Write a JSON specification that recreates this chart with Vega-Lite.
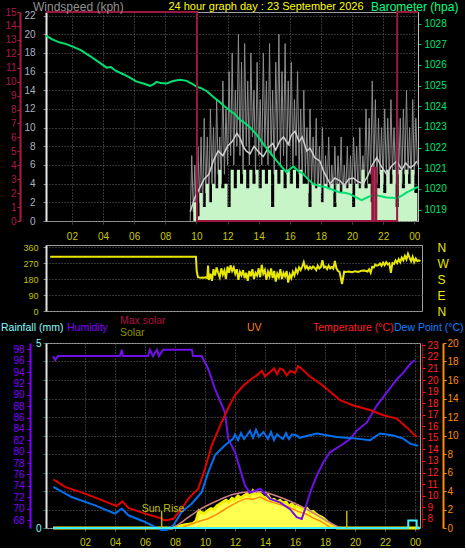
{
"$schema": "https://vega.github.io/schema/vega-lite/v6.json",
"background": "black",
"padding": 0,
"bounds": "flush",
"spacing": 24,
"config": {
 "view": {"stroke": "#a0a0a0", "strokeWidth": 1},
 "axis": {"labelFont": "Liberation Sans", "labelFontSize": 10, "gridDash": [1, 2], "gridColor": "#6a6a6a", "gridWidth": 1, "tickSize": 3, "labelOverlap": false, "labelFlush": false, "domainColor": "#e0e0e0", "format": "d"},
 "text": {"font": "Liberation Sans"}
},
"resolve": {"scale": {"x": "independent", "y": "independent", "color": "independent"}},
"datasets": {
 "gust": [{"h":9.6,"v":0},{"h":9.7,"v":7},{"h":9.8,"v":1},{"h":9.9,"v":6},{"h":10.0,"v":0},{"h":10.1,"v":8},{"h":10.2,"v":2},{"h":10.3,"v":9},{"h":10.4,"v":1},{"h":10.5,"v":11},{"h":10.6,"v":3},{"h":10.7,"v":9},{"h":10.8,"v":2},{"h":10.9,"v":12},{"h":11.0,"v":4},{"h":11.1,"v":10},{"h":11.2,"v":3},{"h":11.3,"v":13},{"h":11.4,"v":5},{"h":11.5,"v":9},{"h":11.6,"v":4},{"h":11.7,"v":15},{"h":11.8,"v":5},{"h":11.9,"v":12},{"h":12.0,"v":6},{"h":12.1,"v":16},{"h":12.2,"v":7},{"h":12.3,"v":18},{"h":12.4,"v":6},{"h":12.5,"v":14},{"h":12.6,"v":8},{"h":12.7,"v":20},{"h":12.8,"v":7},{"h":12.9,"v":17},{"h":13.0,"v":5},{"h":13.1,"v":19},{"h":13.2,"v":8},{"h":13.3,"v":15},{"h":13.4,"v":6},{"h":13.5,"v":18},{"h":13.6,"v":9},{"h":13.7,"v":14},{"h":13.8,"v":5},{"h":13.9,"v":17},{"h":14.0,"v":7},{"h":14.1,"v":13},{"h":14.2,"v":6},{"h":14.3,"v":18},{"h":14.4,"v":8},{"h":14.5,"v":15},{"h":14.6,"v":6},{"h":14.7,"v":19},{"h":14.8,"v":7},{"h":14.9,"v":14},{"h":15.0,"v":5},{"h":15.1,"v":17},{"h":15.2,"v":8},{"h":15.3,"v":20},{"h":15.4,"v":6},{"h":15.5,"v":16},{"h":15.6,"v":7},{"h":15.7,"v":19},{"h":15.8,"v":5},{"h":15.9,"v":15},{"h":16.0,"v":8},{"h":16.1,"v":17},{"h":16.2,"v":6},{"h":16.3,"v":13},{"h":16.4,"v":7},{"h":16.5,"v":16},{"h":16.6,"v":5},{"h":16.7,"v":12},{"h":16.8,"v":4},{"h":16.9,"v":14},{"h":17.0,"v":5},{"h":17.1,"v":10},{"h":17.2,"v":3},{"h":17.3,"v":12},{"h":17.4,"v":4},{"h":17.5,"v":9},{"h":17.6,"v":3},{"h":17.7,"v":11},{"h":17.8,"v":2},{"h":17.9,"v":8},{"h":18.0,"v":3},{"h":18.1,"v":10},{"h":18.2,"v":2},{"h":18.3,"v":7},{"h":18.4,"v":3},{"h":18.5,"v":9},{"h":18.6,"v":2},{"h":18.7,"v":6},{"h":18.8,"v":3},{"h":18.9,"v":8},{"h":19.0,"v":2},{"h":19.1,"v":7},{"h":19.2,"v":3},{"h":19.3,"v":9},{"h":19.4,"v":2},{"h":19.5,"v":6},{"h":19.6,"v":3},{"h":19.7,"v":8},{"h":19.8,"v":2},{"h":19.9,"v":7},{"h":20.0,"v":3},{"h":20.1,"v":9},{"h":20.2,"v":4},{"h":20.3,"v":8},{"h":20.4,"v":2},{"h":20.5,"v":10},{"h":20.6,"v":3},{"h":20.7,"v":7},{"h":20.8,"v":4},{"h":20.9,"v":12},{"h":21.0,"v":4},{"h":21.1,"v":11},{"h":21.2,"v":5},{"h":21.3,"v":15},{"h":21.4,"v":5},{"h":21.5,"v":13},{"h":21.6,"v":4},{"h":21.7,"v":11},{"h":21.8,"v":5},{"h":21.9,"v":10},{"h":22.0,"v":4},{"h":22.1,"v":12},{"h":22.2,"v":5},{"h":22.3,"v":11},{"h":22.4,"v":4},{"h":22.5,"v":13},{"h":22.6,"v":5},{"h":22.7,"v":10},{"h":22.8,"v":4},{"h":22.9,"v":14},{"h":23.0,"v":5},{"h":23.1,"v":11},{"h":23.2,"v":4},{"h":23.3,"v":12},{"h":23.4,"v":5},{"h":23.5,"v":14},{"h":23.6,"v":5},{"h":23.7,"v":10},{"h":23.8,"v":4},{"h":23.9,"v":13},{"h":24.0,"v":5},{"h":24.1,"v":11},{"h":24.2,"v":6}],
 "spd": [{"h":9.6,"v":0},{"h":9.8,"v":2},{"h":10.0,"v":0.5},{"h":10.2,"v":3},{"h":10.4,"v":1.5},{"h":10.6,"v":4},{"h":10.8,"v":2},{"h":11.0,"v":4},{"h":11.2,"v":3.5},{"h":11.4,"v":5.5},{"h":11.6,"v":3.5},{"h":11.8,"v":4},{"h":12.0,"v":1.5},{"h":12.2,"v":5.5},{"h":12.4,"v":3.5},{"h":12.6,"v":5.5},{"h":12.8,"v":4},{"h":13.0,"v":5.5},{"h":13.2,"v":3.5},{"h":13.4,"v":5.5},{"h":13.6,"v":4},{"h":13.8,"v":5.5},{"h":14.0,"v":3.5},{"h":14.2,"v":5.5},{"h":14.4,"v":4},{"h":14.6,"v":5.5},{"h":14.8,"v":1.5},{"h":15.0,"v":5.5},{"h":15.2,"v":4},{"h":15.4,"v":5.5},{"h":15.6,"v":3.5},{"h":15.8,"v":5.5},{"h":16.0,"v":4},{"h":16.2,"v":5.5},{"h":16.4,"v":3.5},{"h":16.6,"v":5.5},{"h":16.8,"v":4},{"h":17.0,"v":4},{"h":17.2,"v":1.5},{"h":17.4,"v":4},{"h":17.6,"v":3.5},{"h":17.8,"v":4},{"h":18.0,"v":2},{"h":18.2,"v":4},{"h":18.4,"v":3.5},{"h":18.6,"v":4},{"h":18.8,"v":1.5},{"h":19.0,"v":4},{"h":19.2,"v":3},{"h":19.4,"v":4},{"h":19.6,"v":3.5},{"h":19.8,"v":4},{"h":20.0,"v":1.5},{"h":20.2,"v":4},{"h":20.4,"v":3.5},{"h":20.6,"v":5.5},{"h":20.8,"v":3.5},{"h":21.0,"v":4},{"h":21.2,"v":2},{"h":21.4,"v":5.5},{"h":21.6,"v":3.5},{"h":21.8,"v":5.5},{"h":22.0,"v":3},{"h":22.2,"v":5.5},{"h":22.4,"v":4},{"h":22.6,"v":5.5},{"h":22.8,"v":1.5},{"h":23.0,"v":5.5},{"h":23.2,"v":3.5},{"h":23.4,"v":5.5},{"h":23.6,"v":4},{"h":23.8,"v":5.5},{"h":24.0,"v":3},{"h":24.2,"v":5.5}],
 "avg": [{"h":9.6,"v":1},{"h":9.9,"v":2.5},{"h":10.2,"v":3.5},{"h":10.5,"v":4.5},{"h":10.8,"v":5},{"h":11.1,"v":6.5},{"h":11.4,"v":7.5},{"h":11.7,"v":7},{"h":12.0,"v":8},{"h":12.3,"v":8.5},{"h":12.6,"v":9.4},{"h":12.8,"v":8.9},{"h":13.0,"v":8},{"h":13.2,"v":7.5},{"h":13.45,"v":7.2},{"h":13.7,"v":8},{"h":14.0,"v":7.4},{"h":14.3,"v":6.9},{"h":14.6,"v":7.8},{"h":14.9,"v":8.3},{"h":15.1,"v":7.6},{"h":15.37,"v":8.6},{"h":15.6,"v":9.0},{"h":15.9,"v":8.2},{"h":16.1,"v":9.2},{"h":16.34,"v":9.6},{"h":16.6,"v":8.5},{"h":16.8,"v":9.0},{"h":17.09,"v":7.5},{"h":17.3,"v":7.8},{"h":17.6,"v":6.8},{"h":17.94,"v":6.4},{"h":18.2,"v":5.2},{"h":18.59,"v":4.0},{"h":18.9,"v":4.6},{"h":19.23,"v":4.3},{"h":19.5,"v":3.8},{"h":19.8,"v":4.5},{"h":20.08,"v":4.6},{"h":20.4,"v":4.2},{"h":20.73,"v":4.0},{"h":21.0,"v":4.8},{"h":21.3,"v":6.0},{"h":21.59,"v":6.8},{"h":21.9,"v":5.8},{"h":22.23,"v":5.0},{"h":22.5,"v":5.8},{"h":22.87,"v":6.4},{"h":23.2,"v":5.5},{"h":23.45,"v":6.2},{"h":23.73,"v":5.7},{"h":24.0,"v":6.0},{"h":24.16,"v":6.4}],
 "baro": [{"h":0.334,"v":1027.42},{"h":0.7,"v":1027.25},{"h":1.23,"v":1027.08},{"h":1.6,"v":1027.02},{"h":2.09,"v":1026.87},{"h":2.6,"v":1026.7},{"h":3.16,"v":1026.43},{"h":3.7,"v":1026.15},{"h":4.23,"v":1025.87},{"h":4.5,"v":1025.9},{"h":4.8,"v":1025.72},{"h":5.3,"v":1025.55},{"h":5.7,"v":1025.4},{"h":6.16,"v":1025.19},{"h":6.6,"v":1025.1},{"h":7.02,"v":1024.99},{"h":7.2,"v":1025.05},{"h":7.45,"v":1025.18},{"h":7.7,"v":1025.12},{"h":8.09,"v":1025.1},{"h":8.5,"v":1025.22},{"h":8.95,"v":1025.28},{"h":9.38,"v":1025.23},{"h":9.7,"v":1025.1},{"h":10.02,"v":1024.94},{"h":10.3,"v":1024.88},{"h":10.66,"v":1024.74},{"h":11.09,"v":1024.45},{"h":11.41,"v":1024.26},{"h":11.8,"v":1024.0},{"h":12.16,"v":1023.78},{"h":12.5,"v":1023.6},{"h":12.8,"v":1023.34},{"h":13.1,"v":1023.2},{"h":13.45,"v":1022.97},{"h":13.9,"v":1022.6},{"h":14.3,"v":1022.17},{"h":14.7,"v":1021.8},{"h":15.16,"v":1021.36},{"h":15.5,"v":1021.05},{"h":15.8,"v":1020.8},{"h":16.0,"v":1020.95},{"h":16.23,"v":1021.09},{"h":16.5,"v":1020.9},{"h":16.87,"v":1020.72},{"h":17.2,"v":1020.45},{"h":17.51,"v":1020.24},{"h":17.9,"v":1020.15},{"h":18.37,"v":1020.07},{"h":18.8,"v":1019.95},{"h":19.23,"v":1019.83},{"h":19.55,"v":1019.82},{"h":19.87,"v":1019.75},{"h":20.2,"v":1019.62},{"h":20.62,"v":1019.46},{"h":21.0,"v":1019.6},{"h":21.37,"v":1019.72},{"h":21.8,"v":1019.66},{"h":22.23,"v":1019.59},{"h":22.6,"v":1019.58},{"h":22.87,"v":1019.54},{"h":23.2,"v":1019.68},{"h":23.52,"v":1019.83},{"h":23.9,"v":1019.98},{"h":24.16,"v":1020.07},{"h":24.24,"v":1020.1}],
 "redstep": [{"h":0.334,"v":15},{"h":10.04,"v":0},{"h":21.3,"v":3.8},{"h":21.36,"v":0},{"h":21.5,"v":3.8},{"h":21.56,"v":0},{"h":22.9,"v":15},{"h":24.24,"v":15}],
 "tophead": [{"t":"Windspeed (kph)","h":-0.5,"u":1.024,"c":"wind"},{"t":"Barometer (hpa)","h":21.22,"u":1.024,"c":"baro"}],
 "toptitle": [{"t":"24 hour graph day : 23 September 2026","h":14.47,"u":1.024}],
 "dir": [{"h":0.6,"v":305},{"h":9.97,"v":305},{"h":10.02,"v":225},{"h":10.1,"v":190},{"h":10.2,"v":188},{"h":10.3,"v":187},{"h":10.4,"v":188},{"h":10.5,"v":187},{"h":10.6,"v":190},{"h":10.7,"v":186},{"h":10.75,"v":255},{"h":10.8,"v":175},{"h":10.9,"v":210},{"h":11.0,"v":170},{"h":11.1,"v":235},{"h":11.2,"v":200},{"h":11.3,"v":245},{"h":11.4,"v":215},{"h":11.5,"v":190},{"h":11.6,"v":240},{"h":11.7,"v":205},{"h":11.8,"v":228},{"h":11.9,"v":180},{"h":12.0,"v":250},{"h":12.1,"v":215},{"h":12.2,"v":257},{"h":12.3,"v":225},{"h":12.4,"v":245},{"h":12.5,"v":210},{"h":12.6,"v":235},{"h":12.7,"v":175},{"h":12.8,"v":220},{"h":12.9,"v":200},{"h":13.0,"v":230},{"h":13.1,"v":185},{"h":13.2,"v":215},{"h":13.3,"v":170},{"h":13.4,"v":225},{"h":13.5,"v":195},{"h":13.6,"v":235},{"h":13.7,"v":180},{"h":13.8,"v":215},{"h":13.9,"v":200},{"h":14.0,"v":240},{"h":14.1,"v":190},{"h":14.2,"v":260},{"h":14.3,"v":210},{"h":14.4,"v":230},{"h":14.5,"v":175},{"h":14.6,"v":220},{"h":14.7,"v":195},{"h":14.8,"v":240},{"h":14.9,"v":185},{"h":15.0,"v":225},{"h":15.1,"v":165},{"h":15.2,"v":210},{"h":15.3,"v":190},{"h":15.4,"v":235},{"h":15.5,"v":180},{"h":15.6,"v":215},{"h":15.7,"v":195},{"h":15.8,"v":225},{"h":15.9,"v":160},{"h":16.0,"v":205},{"h":16.1,"v":185},{"h":16.2,"v":220},{"h":16.3,"v":200},{"h":16.4,"v":235},{"h":16.5,"v":215},{"h":16.6,"v":245},{"h":16.7,"v":230},{"h":16.8,"v":250},{"h":16.9,"v":275},{"h":17.0,"v":240},{"h":17.1,"v":252},{"h":17.2,"v":235},{"h":17.3,"v":248},{"h":17.4,"v":238},{"h":17.5,"v":250},{"h":17.6,"v":242},{"h":17.7,"v":230},{"h":17.8,"v":255},{"h":17.9,"v":240},{"h":18.0,"v":248},{"h":18.1,"v":285},{"h":18.2,"v":245},{"h":18.3,"v":250},{"h":18.4,"v":236},{"h":18.5,"v":255},{"h":18.6,"v":240},{"h":18.7,"v":248},{"h":18.8,"v":238},{"h":18.9,"v":281},{"h":19.0,"v":240},{"h":19.1,"v":225},{"h":19.2,"v":220},{"h":19.36,"v":152},{"h":19.5,"v":222},{"h":19.6,"v":220},{"h":19.8,"v":222},{"h":20.0,"v":218},{"h":20.2,"v":224},{"h":20.4,"v":220},{"h":20.6,"v":226},{"h":20.8,"v":228},{"h":21.0,"v":222},{"h":21.1,"v":235},{"h":21.2,"v":215},{"h":21.3,"v":248},{"h":21.4,"v":245},{"h":21.5,"v":262},{"h":21.6,"v":255},{"h":21.7,"v":258},{"h":21.8,"v":268},{"h":21.9,"v":255},{"h":22.0,"v":272},{"h":22.1,"v":258},{"h":22.2,"v":275},{"h":22.3,"v":262},{"h":22.4,"v":268},{"h":22.5,"v":215},{"h":22.6,"v":270},{"h":22.7,"v":265},{"h":22.8,"v":285},{"h":22.9,"v":270},{"h":23.0,"v":292},{"h":23.1,"v":275},{"h":23.2,"v":300},{"h":23.3,"v":285},{"h":23.4,"v":310},{"h":23.5,"v":290},{"h":23.6,"v":322},{"h":23.7,"v":300},{"h":23.8,"v":280},{"h":23.9,"v":305},{"h":24.0,"v":275},{"h":24.1,"v":295},{"h":24.2,"v":280},{"h":24.3,"v":285},{"h":24.4,"v":281}],
 "hum": [{"h":-0.13,"v":96.8},{"h":0.0,"v":96.1},{"h":0.2,"v":96.8},{"h":4.33,"v":96.8},{"h":4.45,"v":97.9},{"h":4.53,"v":96.8},{"h":6.2,"v":96.8},{"h":6.33,"v":97.9},{"h":6.53,"v":96.8},{"h":6.8,"v":97.9},{"h":6.93,"v":96.8},{"h":7.2,"v":97.9},{"h":9.13,"v":97.9},{"h":9.2,"v":96.8},{"h":9.78,"v":96.8},{"h":10.22,"v":94.5},{"h":10.67,"v":91},{"h":11.33,"v":86.9},{"h":11.55,"v":82.3},{"h":12.0,"v":79.9},{"h":12.33,"v":77},{"h":12.67,"v":74},{"h":13.0,"v":72.8},{"h":13.67,"v":73.5},{"h":14.33,"v":71.7},{"h":15.0,"v":71.1},{"h":15.67,"v":69.9},{"h":16.11,"v":68.5},{"h":16.45,"v":68.2},{"h":16.67,"v":69.9},{"h":17.0,"v":72.8},{"h":17.45,"v":75.8},{"h":17.89,"v":78.1},{"h":18.33,"v":79.9},{"h":19.0,"v":81},{"h":19.67,"v":82.2},{"h":20.11,"v":83.7},{"h":20.78,"v":85.1},{"h":21.45,"v":88.1},{"h":22.11,"v":90.4},{"h":22.78,"v":92.7},{"h":23.22,"v":93.9},{"h":23.67,"v":95.4},{"h":24.0,"v":96.1}],
 "temp": [{"h":-0.11,"v":11.41},{"h":0.67,"v":10.75},{"h":2.0,"v":10.17},{"h":3.33,"v":9.5},{"h":4.11,"v":9.1},{"h":4.49,"v":9.5},{"h":4.89,"v":8.93},{"h":6.0,"v":8.44},{"h":7.0,"v":8.07},{"h":7.33,"v":7.86},{"h":7.89,"v":8.0},{"h":8.45,"v":8.87},{"h":8.89,"v":9.74},{"h":9.55,"v":10.6},{"h":10.0,"v":12.34},{"h":10.45,"v":14.35},{"h":11.11,"v":16.37},{"h":11.67,"v":17.9},{"h":12.0,"v":18.7},{"h":12.55,"v":19.5},{"h":13.0,"v":20.0},{"h":13.45,"v":20.4},{"h":13.8,"v":20.8},{"h":14.0,"v":20.3},{"h":14.33,"v":20.7},{"h":14.6,"v":21.0},{"h":14.8,"v":20.5},{"h":15.0,"v":21.0},{"h":15.2,"v":20.9},{"h":15.45,"v":20.4},{"h":15.7,"v":20.8},{"h":16.0,"v":20.6},{"h":16.2,"v":21.2},{"h":16.33,"v":21.1},{"h":17.0,"v":20.3},{"h":17.67,"v":19.7},{"h":18.33,"v":19.0},{"h":19.0,"v":18.25},{"h":19.89,"v":17.8},{"h":21.0,"v":17.4},{"h":21.89,"v":16.95},{"h":22.78,"v":16.66},{"h":23.45,"v":15.9},{"h":24.11,"v":15.07}],
 "dew": [{"h":-0.11,"v":10.75},{"h":1.11,"v":9.88},{"h":2.67,"v":9.16},{"h":4.0,"v":8.44},{"h":4.45,"v":8.88},{"h":4.89,"v":8.3},{"h":6.0,"v":7.72},{"h":6.67,"v":7.29},{"h":7.11,"v":7.0},{"h":7.47,"v":7.05},{"h":7.89,"v":7.43},{"h":8.45,"v":8.6},{"h":9.11,"v":9.3},{"h":9.78,"v":10.3},{"h":10.22,"v":12.04},{"h":10.67,"v":13.5},{"h":11.33,"v":14.35},{"h":11.89,"v":14.93},{"h":12.0,"v":15.3},{"h":12.2,"v":14.8},{"h":12.4,"v":15.4},{"h":12.6,"v":14.9},{"h":12.78,"v":15.2},{"h":13.0,"v":15.6},{"h":13.2,"v":15.0},{"h":13.4,"v":15.7},{"h":13.6,"v":15.1},{"h":13.89,"v":15.5},{"h":14.0,"v":15.3},{"h":14.2,"v":14.9},{"h":14.4,"v":15.5},{"h":14.6,"v":14.8},{"h":14.8,"v":15.3},{"h":15.0,"v":15.07},{"h":15.2,"v":14.9},{"h":15.4,"v":15.4},{"h":15.6,"v":14.9},{"h":15.8,"v":15.3},{"h":16.11,"v":15.2},{"h":16.3,"v":15.0},{"h":17.45,"v":15.37},{"h":18.78,"v":15.07},{"h":20.11,"v":14.93},{"h":21.0,"v":14.8},{"h":21.67,"v":15.37},{"h":22.55,"v":15.2},{"h":23.22,"v":14.93},{"h":23.67,"v":14.5},{"h":24.22,"v":14.3}],
 "solar": [{"h":-0.13,"v":0},{"h":7.8,"v":0},{"h":8.0,"v":20},{"h":8.2,"v":35},{"h":8.4,"v":50},{"h":8.6,"v":65},{"h":8.8,"v":75},{"h":9.0,"v":86},{"h":9.2,"v":100},{"h":9.4,"v":150},{"h":9.6,"v":370},{"h":9.8,"v":330},{"h":10.0,"v":324},{"h":10.2,"v":380},{"h":10.4,"v":420},{"h":10.6,"v":400},{"h":10.8,"v":476},{"h":11.0,"v":520},{"h":11.2,"v":560},{"h":11.4,"v":600},{"h":11.6,"v":560},{"h":11.8,"v":640},{"h":12.0,"v":610},{"h":12.2,"v":690},{"h":12.4,"v":650},{"h":12.6,"v":700},{"h":12.8,"v":740},{"h":13.0,"v":680},{"h":13.2,"v":800},{"h":13.4,"v":720},{"h":13.6,"v":760},{"h":13.8,"v":700},{"h":14.0,"v":640},{"h":14.2,"v":700},{"h":14.4,"v":600},{"h":14.6,"v":620},{"h":14.8,"v":560},{"h":15.0,"v":600},{"h":15.2,"v":540},{"h":15.4,"v":560},{"h":15.6,"v":470},{"h":15.8,"v":520},{"h":16.0,"v":450},{"h":16.2,"v":480},{"h":16.4,"v":430},{"h":16.6,"v":400},{"h":16.8,"v":420},{"h":17.0,"v":340},{"h":17.2,"v":360},{"h":17.4,"v":300},{"h":17.6,"v":260},{"h":17.8,"v":230},{"h":18.0,"v":180},{"h":18.2,"v":120},{"h":18.4,"v":70},{"h":18.6,"v":30},{"h":18.8,"v":0},{"h":24.3,"v":0}],
 "maxsolar": [{"h":7.89,"v":0},{"h":8.55,"v":151},{"h":9.67,"v":404},{"h":10.78,"v":584},{"h":11.89,"v":729},{"h":13.0,"v":785},{"h":13.67,"v":785},{"h":14.78,"v":692},{"h":15.89,"v":547},{"h":17.0,"v":368},{"h":18.11,"v":151},{"h":19.0,"v":0}],
 "uv": [{"h":8.53,"v":0.1},{"h":9.67,"v":0.76},{"h":10.2,"v":1.0},{"h":10.78,"v":1.48},{"h":11.3,"v":2.0},{"h":11.89,"v":2.56},{"h":12.3,"v":2.9},{"h":12.78,"v":3.2},{"h":13.2,"v":3.1},{"h":13.67,"v":3.35},{"h":14.1,"v":3.0},{"h":14.55,"v":2.74},{"h":15.1,"v":2.5},{"h":15.67,"v":2.2},{"h":16.2,"v":1.8},{"h":16.78,"v":1.48},{"h":17.2,"v":1.1},{"h":17.67,"v":0.76},{"h":18.33,"v":0.1}],
 "rain": [{"h":-0.13,"v":0},{"h":23.55,"v":0.2},{"h":24.11,"v":0},{"h":24.33,"v":0}],
 "sunrules": [{"h":7.11,"lo":0,"hi":0.092},{"h":19.45,"lo":0,"hi":0.092}],
 "bothead": [{"t":"Rainfall (mm)","h":-3.6,"u":1.081,"c":"rain"},{"t":"Humidity","h":0.8,"u":1.081,"c":"hum"},{"t":"Max solar","h":4.33,"u":1.119,"c":"maxsolar"},{"t":"Solar","h":4.33,"u":1.054,"c":"solar"},{"t":"UV","h":12.8,"u":1.081,"c":"uv"},{"t":"Temperature (°C)","h":17.2,"u":1.081,"c":"temp"},{"t":"Dew Point (°C)","h":22.6,"u":1.081,"c":"dew"},{"t":"Sun Rise","h":5.78,"u":0.103,"c":"sunrise"}]
},
"vconcat": [
 {
  "width": 372, "height": 209,
  "resolve": {"scale": {"y": "independent"}},
  "encoding": {"x": {"field": "h", "type": "quantitative", "scale": {"domain": [0.334, 24.24], "nice": false, "zero": false},
    "axis": {"title": null, "values": [2,4,6,8,10,12,14,16,18,20,22,24], "labelExpr": "datum.value % 24 < 10 ? '0' + (datum.value % 24) : '' + datum.value", "grid": true, "domain": false, "tickColor": "#404040", "tickSize": 3, "labelPadding": 7, "labelColor": "#c8c800"}}},
  "layer": [
   {"data": {"name": "gust"}, "mark": {"type": "line", "color": "#8c8c8c", "strokeWidth": 1},
    "encoding": {"y": {"field": "v", "type": "quantitative", "scale": {"domain": [0, 22.38], "nice": false},
      "axis": {"title": null, "orient": "left", "values": [0,2,4,6,8,10,12,14,16,18,20,22], "grid": true, "labelColor": "#a8b0c0", "domainColor": "#e8e8e8", "domainWidth": 2, "tickColor": "#808080", "tickSize": 3, "labelPadding": 8}}}},
   {"data": {"name": "spd"}, "mark": {"type": "area", "color": "#c8f5c8", "opacity": 1, "interpolate": "step-after"},
    "encoding": {"y": {"field": "v", "type": "quantitative", "scale": {"domain": [0, 22.38], "nice": false}, "axis": null}}},
   {"data": {"name": "avg"}, "mark": {"type": "line", "color": "#cfcfcf", "strokeWidth": 1.5},
    "encoding": {"y": {"field": "v", "type": "quantitative", "scale": {"domain": [0, 22.38], "nice": false}, "axis": null}}},
   {"data": {"name": "baro"}, "mark": {"type": "line", "color": "#00e070", "strokeWidth": 2},
    "encoding": {"y": {"field": "v", "type": "quantitative", "scale": {"domain": [1018.45, 1028.56], "nice": false, "zero": false},
      "axis": {"title": null, "orient": "right", "values": [1019,1020,1021,1022,1023,1024,1025,1026,1027,1028], "labelColor": "#00e070", "domainColor": "#c0c0c0", "tickColor": "#00c060", "tickSize": 3, "labelPadding": 3}}}},
   {"data": {"name": "redstep"}, "mark": {"type": "line", "color": "#9a1840", "strokeWidth": 2, "interpolate": "step-after"},
    "encoding": {"y": {"field": "v", "type": "quantitative", "scale": {"domain": [0, 15.0], "nice": false},
      "axis": {"title": null, "orient": "left", "offset": 26, "values": [0,1,2,3,4,5,6,7,8,9,10,11,12,13,14,15], "labelColor": "#b01848", "domainColor": "#b01848", "domainWidth": 2, "tickColor": "#b01848", "tickSize": 3, "labelPadding": 1}}}},
   {"data": {"name": "tophead"}, "mark": {"type": "text", "align": "left", "baseline": "middle", "fontSize": 12},
    "encoding": {"y": {"field": "u", "type": "quantitative", "scale": {"domain": [0, 1], "nice": false}, "axis": null},
      "text": {"field": "t"},
      "color": {"field": "c", "type": "nominal", "legend": null, "scale": {"domain": ["wind", "baro"], "range": ["#909090", "#00ff80"]}}}},
   {"data": {"name": "toptitle"}, "mark": {"type": "text", "align": "center", "baseline": "middle", "fontSize": 11, "color": "#ffff00"},
    "encoding": {"y": {"field": "u", "type": "quantitative", "scale": {"domain": [0, 1], "nice": false}, "axis": null},
      "text": {"field": "t"}}}
  ]
 },
 {
  "vconcat": [
   {
    "width": 376, "height": 66,
    "resolve": {"scale": {"y": "independent"}},
    "encoding": {"x": {"field": "h", "type": "quantitative", "scale": {"domain": [0.334, 24.5], "nice": false, "zero": false}, "axis": null}},
    "layer": [
     {"data": {"name": "dir"}, "mark": {"type": "line", "color": "#e8e800", "strokeWidth": 2},
      "encoding": {"y": {"field": "v", "type": "quantitative", "scale": {"domain": [0, 371.25], "nice": false},
        "axis": {"title": null, "orient": "left", "values": [0, 90, 180, 270, 360], "grid": true, "labelColor": "#c0c000", "labelFontSize": 9, "tickColor": "#808080", "tickSize": 3, "labelPadding": 5, "domainColor": "#e0e0e0", "domainWidth": 2}}}},
     {"data": {"name": "dir"}, "mark": {"type": "line", "strokeOpacity": 0},
      "encoding": {"y": {"field": "v", "type": "quantitative", "scale": {"domain": [0, 371.25], "nice": false},
        "axis": {"title": null, "orient": "right", "values": [0, 90, 180, 270, 360], "labelExpr": "datum.value == 90 ? 'E' : datum.value == 180 ? 'S' : datum.value == 270 ? 'W' : 'N'", "domain": false, "ticks": false, "labelPadding": 15, "labelFontSize": 12, "labelColor": "#e8e800"}}}}
    ]
   },
   {
    "width": 374, "height": 185,
    "resolve": {"scale": {"y": "independent"}},
    "encoding": {"x": {"field": "h", "type": "quantitative", "scale": {"domain": [-0.6, 24.333], "nice": false, "zero": false},
      "axis": {"title": null, "values": [2,4,6,8,10,12,14,16,18,20,22,24], "labelExpr": "datum.value % 24 < 10 ? '0' + (datum.value % 24) : '' + datum.value", "grid": true, "domain": false, "tickColor": "#606060", "tickSize": 3, "labelPadding": 6, "labelColor": "#c8c800"}}},
    "layer": [
     {"data": {"name": "solar"}, "mark": {"type": "area", "color": "#ffff50", "opacity": 1, "line": {"color": "#f0f000", "strokeWidth": 3}},
      "encoding": {"y": {"field": "v", "type": "quantitative", "scale": {"domain": [0, 4000], "nice": false}, "axis": null}}},
     {"data": {"name": "maxsolar"}, "mark": {"type": "line", "color": "#d08088", "strokeWidth": 1.5, "interpolate": "monotone"},
      "encoding": {"y": {"field": "v", "type": "quantitative", "scale": {"domain": [0, 4000], "nice": false}, "axis": null}}},
     {"data": {"name": "uv"}, "mark": {"type": "line", "color": "#ff8c00", "strokeWidth": 1.5},
      "encoding": {"y": {"field": "v", "type": "quantitative", "scale": {"domain": [0, 20], "nice": false},
        "axis": {"title": null, "orient": "right", "offset": 23, "values": [0,2,4,6,8,10,12,14,16,18,20], "labelColor": "#ff8c00", "domainColor": "#ff8c00", "domainWidth": 2, "tickColor": "#ff8c00", "tickSize": 3, "labelPadding": 1}}}},
     {"data": {"name": "hum"}, "mark": {"type": "line", "color": "#7010e8", "strokeWidth": 2},
      "encoding": {"y": {"field": "v", "type": "quantitative", "scale": {"domain": [66.6, 99.1], "nice": false, "zero": false},
        "axis": {"title": null, "orient": "left", "offset": 16, "values": [68,70,72,74,76,78,80,82,84,86,88,90,92,94,96,98], "labelColor": "#8000ff", "domainColor": "#8000ff", "domainWidth": 2, "tickColor": "#8000ff", "tickSize": 3, "labelPadding": 3}}}},
     {"data": {"name": "temp"}, "mark": {"type": "line", "color": "#e00000", "strokeWidth": 2},
      "encoding": {"y": {"field": "v", "type": "quantitative", "scale": {"domain": [7.2, 23.2], "nice": false, "zero": false},
        "axis": {"title": null, "orient": "right", "offset": 2, "values": [7,8,9,10,11,12,13,14,15,16,17,18,19,20,21,22,23], "labelColor": "#ff2020", "domainColor": "#c00000", "tickColor": "#ff2020", "tickSize": 3, "labelPadding": 2}}}},
     {"data": {"name": "dew"}, "mark": {"type": "line", "color": "#0070f0", "strokeWidth": 2},
      "encoding": {"y": {"field": "v", "type": "quantitative", "scale": {"domain": [7.2, 23.2], "nice": false, "zero": false}, "axis": null}}},
     {"data": {"name": "rain"}, "mark": {"type": "line", "color": "#40f0ff", "strokeWidth": 2, "interpolate": "step-after"},
      "encoding": {"y": {"field": "v", "type": "quantitative", "scale": {"domain": [0, 5], "nice": false},
        "axis": {"title": null, "orient": "left", "values": [0,0.5,1,1.5,2,2.5,3,3.5,4,4.5,5], "format": "", "labelExpr": "datum.value == 0 || datum.value == 5 ? datum.label : ''", "grid": true, "labelColor": "#80ffff", "domainColor": "#e0e0e0", "domainWidth": 2, "tickColor": "#008080", "tickSize": 3, "labelPadding": 2}}}},
     {"data": {"name": "sunrules"}, "mark": {"type": "rule", "color": "#b8b800", "strokeWidth": 1.5},
      "encoding": {"y": {"field": "lo", "type": "quantitative", "scale": {"domain": [0, 1], "nice": false}, "axis": null}, "y2": {"field": "hi"}}},
     {"data": {"name": "bothead"}, "mark": {"type": "text", "align": "left", "baseline": "middle", "fontSize": 10.5},
      "encoding": {"y": {"field": "u", "type": "quantitative", "scale": {"domain": [0, 1], "nice": false}, "axis": null},
        "text": {"field": "t"},
        "color": {"field": "c", "type": "nominal", "legend": null, "scale": {"domain": ["rain", "hum", "maxsolar", "solar", "uv", "temp", "dew", "sunrise"], "range": ["#80ffff", "#8000ff", "#b01040", "#909000", "#ff8000", "#ff2020", "#1080ff", "#c0c000"]}}}}
    ]
   }
  ],
  "spacing": 32,
  "bounds": "flush",
  "resolve": {"scale": {"x": "independent", "y": "independent", "color": "independent"}}
 }
]
}
